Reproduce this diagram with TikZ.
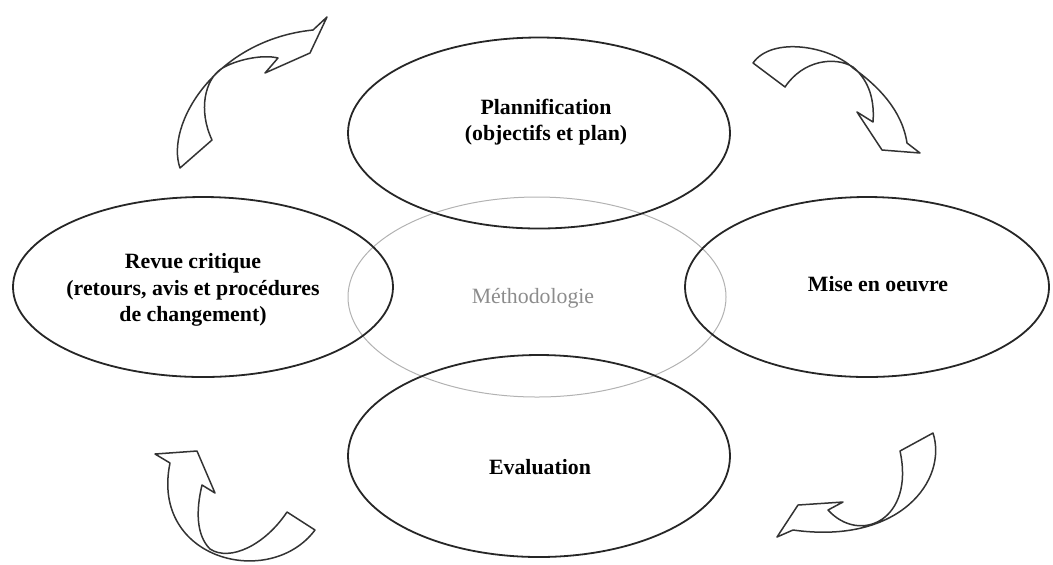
\documentclass[tikz,border=0pt]{standalone}
\usepackage{fontspec}
\setmainfont{Liberation Serif}
\usetikzlibrary{shapes.geometric}

\begin{document}
\begin{tikzpicture}[x=0.5pt,y=-0.5pt,
  phase/.style={draw=black!85, line width=0.9pt, ellipse, inner sep=0pt},
  phasetext/.style={align=center, inner sep=0pt, font=\bfseries\fontsize{10.9}{13.3}\selectfont},
  cyclearrow/.style={draw=black!80, line width=0.75pt, line join=round}]
\useasboundingbox (0,0) rectangle (1053,564);
% centre
\node [ellipse, draw=black!30, line width=0.5pt, minimum width=189pt, minimum height=100pt] (method) at (537,297) {};
\node [inner sep=0pt, text=black!45, font=\fontsize{10.9}{13}\selectfont] (methodtext) at (533,298) {Méthodologie};
% phases
\node [phase, minimum width=191pt, minimum height=95.5pt] (plan) at (539,133) {};
\node [phasetext] (plantext) at (546,122) {Plannification\\(objectifs et plan)};
\node [phase, minimum width=182pt, minimum height=90pt] (work) at (867,287) {};
\node [phasetext] (worktext) at (878,284) {Mise en oeuvre};
\node [phase, minimum width=191pt, minimum height=101pt] (eval) at (539,456) {};
\node [phasetext] (evaltext) at (540,467) {Evaluation};
\node [phase, minimum width=190pt, minimum height=90pt] (review) at (203,287) {};
\node [phasetext] (reviewtext) at (193,290) {Revue critique\\(retours, avis et procédures\\de changement)};
% curved arrows
\draw [cyclearrow] (180,168) .. controls (165,125) and (215,40) .. (313,30) -- (327,17) -- (310,53) -- (265,73) -- (278,58) .. controls (262,54) and (235,60) .. (221,69) .. controls (205,80) and (198,110) .. (212,140) -- cycle;
\draw [cyclearrow] (753,63) .. controls (772,36) and (830,46) .. (853,68) .. controls (878,86) and (902,110) .. (907,143) -- (920,153) -- (882,150) -- (857,112) -- (873,122) .. controls (875,95) and (866,78) .. (853,67) .. controls (835,56) and (803,60) .. (785,87) -- cycle;
\draw [cyclearrow] (933,433) .. controls (948,480) and (900,545) .. (793,530) -- (777,537) -- (798,505) -- (843,502) -- (828,510) .. controls (860,545) and (915,520) .. (900,451) -- cycle;
\draw [cyclearrow] (315,530) .. controls (270,590) and (150,560) .. (170,463) -- (155,454) -- (197,451) -- (215,493) -- (202,485) .. controls (196,510) and (196,535) .. (210,549) .. controls (230,562) and (265,545) .. (287,512) -- cycle;
\end{tikzpicture}
\end{document}
